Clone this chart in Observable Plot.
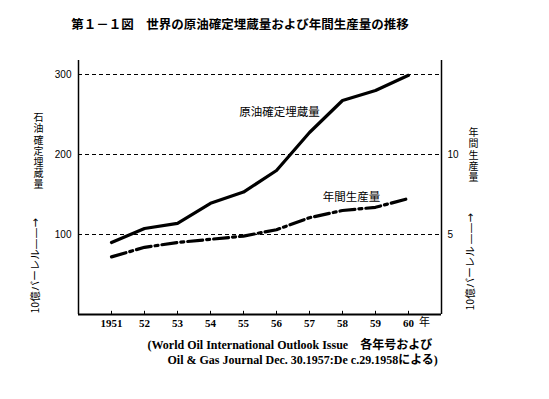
<!DOCTYPE html>
<html><head><meta charset="utf-8">
<script src="https://cdn.jsdelivr.net/npm/d3@7"></script>
<script src="https://cdn.jsdelivr.net/npm/@observablehq/plot@0.6"></script>
<style>body{margin:0;background:#fff}</style>
</head><body><div id="chart"></div>
<script>
const years = [1951, 1952, 1953, 1954, 1955, 1956, 1957, 1958, 1959, 1960];
// 原油確定埋蔵量 (10億バーレル)
const reserves = [90, 107.5, 114, 139, 153, 180, 227.5, 267.5, 280, 299];
// 年間生産量 (10億バーレル)
const production = [3.6, 4.2, 4.5, 4.7, 4.9, 5.3, 6.05, 6.5, 6.7, 7.25];
const leftTicks = [100, 200, 300];
const rightTicks = [5, 10];
const PROD_FACTOR = 20; // right axis: 5 ↔ 100, 10 ↔ 200

const titleText = "第１－１図　世界の原油確定埋蔵量および年間生産量の推移";
const reservesLabel = "原油確定埋蔵量";
const productionLabel = "年間生産量";
const leftLabel = "石油確定埋蔵量";
const rightLabel = "年間生産量";
const unitLabel = "10億バーレル";
const arrowLabel = "——→";
const yearUnit = "年";
const caption1 = "(World Oil International Outlook Issue　各年号および";
const caption2 = "Oil & Gas Journal Dec. 30.1957:De c.29.1958による)";

const resData = years.map((y, i) => ({year: y, value: reserves[i]}));
const prodData = years.map((y, i) => ({year: y, value: production[i] * PROD_FACTOR}));

const serif = "'Liberation Serif','Noto Sans CJK JP',serif";
const sans = "'Noto Sans CJK JP','Liberation Sans',sans-serif";

const chart = Plot.plot({
  width: 549, height: 399,
  marginLeft: 78, marginRight: 108, marginTop: 60, marginBottom: 85,
  x: {domain: [1950, 1961]},
  y: {domain: [0, 317.5]},
  style: {background: "#fff", color: "#000", fontFamily: sans},
  marks: [
    Plot.ruleY(leftTicks, {stroke: "#000", strokeWidth: 1, strokeDasharray: "4,3"}),
    Plot.ruleX([1950, 1961], {stroke: "#000", strokeWidth: 1.5}),
    Plot.ruleY([0], {stroke: "#000", strokeWidth: 2}),
    Plot.ruleX(years, {y1: 0, y2: 4, stroke: "#000", strokeWidth: 1}),
    Plot.axisY({ticks: leftTicks, tickSize: 0, tickPadding: 7, fontSize: 10, label: null,
      fontFamily: "'Liberation Sans',sans-serif"}),
    Plot.axisY({anchor: "right", ticks: rightTicks.map(v => v * PROD_FACTOR),
      tickFormat: d => d / PROD_FACTOR, tickSize: 0, tickPadding: 6, fontSize: 10, label: null,
      fontFamily: "'Liberation Sans',sans-serif"}),
    Plot.axisX({ticks: years, tickFormat: d => d === years[0] ? String(d) : String(d).slice(2),
      tickSize: 0, tickPadding: 5, fontSize: 11, fontFamily: serif, fontWeight: "bold", label: null}),
    Plot.text([1960], {x: d => d, text: () => yearUnit, frameAnchor: "bottom", dx: 16, dy: 11, fontSize: 11}),
    Plot.line(resData, {x: "year", y: "value", stroke: "#000", strokeWidth: 3.2}),
    Plot.line(prodData, {x: "year", y: "value", stroke: "#000", strokeWidth: 3.2, strokeDasharray: "15,4,3,4"}),
    Plot.text([resData[6]], {x: "year", y: "value", text: () => reservesLabel, dx: -30, dy: -20, fontSize: 11.5}),
    Plot.text([prodData[8]], {x: "year", y: "value", text: () => productionLabel, dx: -24, dy: -10, fontSize: 11.5}),
    Plot.text([titleText], {text: d => d, frameAnchor: "top", dx: -20, dy: -40, fontSize: 12.5, fontWeight: "bold"}),
    // left axis title
    Plot.text([leftLabel], {text: d => d, frameAnchor: "top-left", dx: -40, dy: 52, textAnchor: "start", fontSize: 10, ariaDescription: "vlabel"}),
    Plot.text([unitLabel], {text: d => d, frameAnchor: "bottom-left", dx: -40, dy: -1, textAnchor: "start", rotate: -90, fontSize: 10.5}),
    Plot.text([arrowLabel], {text: d => d, frameAnchor: "bottom-left", dx: -40, dy: -65, textAnchor: "start", rotate: -90, fontSize: 11, fontFamily: "'DejaVu Sans',sans-serif"}),
    // right axis title
    Plot.text([rightLabel], {text: d => d, frameAnchor: "top-right", dx: 32, dy: 67, textAnchor: "start", fontSize: 10, ariaDescription: "vlabel"}),
    Plot.text([unitLabel], {text: d => d, frameAnchor: "bottom-right", dx: 32, dy: -4, textAnchor: "start", rotate: -90, fontSize: 10.5}),
    Plot.text([arrowLabel], {text: d => d, frameAnchor: "bottom-right", dx: 32, dy: -70, textAnchor: "start", rotate: -90, fontSize: 11, fontFamily: "'DejaVu Sans',sans-serif"}),
    // source caption
    Plot.text([caption1], {text: d => d, frameAnchor: "bottom-left", dx: 69, dy: 34, textAnchor: "start", fontSize: 12, fontFamily: serif, fontWeight: "bold"}),
    Plot.text([caption2], {text: d => d, frameAnchor: "bottom-left", dx: 89, dy: 49, textAnchor: "start", fontSize: 12, fontFamily: serif, fontWeight: "bold"})
  ]
});
d3.select(chart).selectAll('g[aria-description="vlabel"] text')
  .attr("y", null)
  .attr("writing-mode", "tb")
  .style("writing-mode", "vertical-rl")
  .style("letter-spacing", "1.2px");
document.getElementById("chart").appendChild(chart);
</script>
</body></html>
